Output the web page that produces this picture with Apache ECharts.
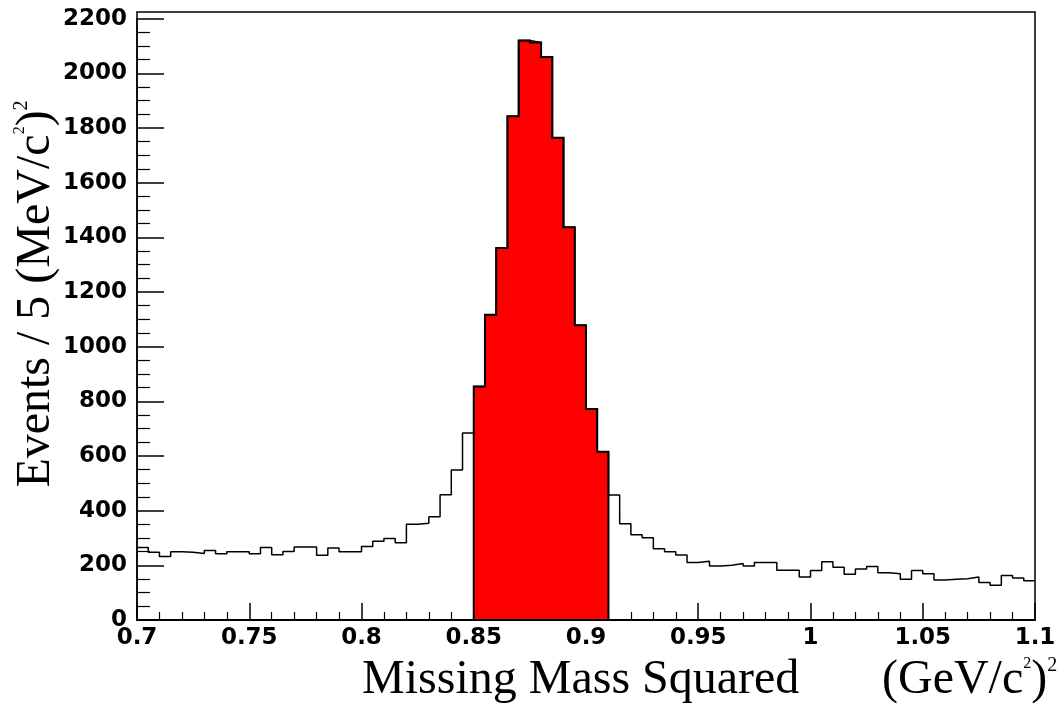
<!DOCTYPE html>
<html>
<head>
<meta charset="utf-8">
<script src="https://cdn.jsdelivr.net/npm/echarts@6/dist/echarts.min.js"></script>
<style>
html,body{margin:0;padding:0;background:#fff;}
#chart{width:1062px;height:713px;}
</style>
</head>
<body>
<div id="chart"></div>
<script>
// ---- data ----
const xRange = [0.7, 1.1];
const binWidth = 0.005;
const signalWindow = [0.85, 0.91];
const counts = [
  265, 248, 232, 250, 248, 243, 254, 242, 250, 250,
  242, 265, 239, 251, 267, 267, 237, 263, 250, 250,
  269, 288, 298, 283, 350, 354, 378, 458, 549, 684,
  854, 1117, 1361, 1843, 2120, 2113, 2060, 1764, 1437, 1078,
  772, 616, 457, 352, 312, 301, 261, 250, 238, 210,
  215, 198, 200, 207, 198, 210, 210, 182, 182, 157,
  181, 213, 193, 167, 187, 196, 173, 169, 149, 181,
  169, 146, 149, 151, 157, 137, 127, 163, 154, 144
];
const xTicks = [0.7, 0.75, 0.8, 0.85, 0.9, 0.95, 1, 1.05, 1.1];
const yTicks = [0, 200, 400, 600, 800, 1000, 1200, 1400, 1600, 1800, 2000, 2200];

// ---- build ----
const edges = counts.map((c, i) => +(xRange[0] + i * binWidth).toFixed(4));
const outline = counts.map((c, i) => [edges[i], c]);
outline.push([xRange[1], counts[counts.length - 1]]);

const sigBins = [];
counts.forEach((c, i) => {
  const lo = edges[i], hi = +(lo + binWidth).toFixed(4);
  if (lo >= signalWindow[0] - 1e-9 && hi <= signalWindow[1] + 1e-9) sigBins.push([lo, hi, c]);
});

const chart = echarts.init(document.getElementById('chart'), null, {renderer: 'canvas'});
const labelFont = {fontFamily: 'DejaVu Sans', fontWeight: 'bold', fontSize: 23, color: '#000'};
const serif = 'Liberation Serif';

chart.setOption({
  animation: false,
  backgroundColor: '#fff',
  grid: {left: 137, right: 27, top: 18.7, bottom: 93, show: false},
  xAxis: {
    type: 'value', min: xRange[0], max: xRange[1], interval: 0.05,
    axisLine: {show: true, lineStyle: {color: '#000', width: 2}},
    axisTick: {show: true, inside: true, length: 17, lineStyle: {color: '#000', width: 1.5}},
    minorTick: {show: true, splitNumber: 5, length: 8, lineStyle: {color: '#000', width: 1.2}},
    splitLine: {show: false},
    axisLabel: Object.assign({margin: 7, formatter: v => {
      const t = xTicks.find(k => Math.abs(k - v) < 1e-6);
      return t === undefined ? '' : String(t);
    }}, labelFont)
  },
  yAxis: {
    type: 'value', min: 0, max: 2200, interval: 200,
    axisLine: {show: true, lineStyle: {color: '#000', width: 1.5}},
    axisTick: {show: true, inside: true, length: 27, lineStyle: {color: '#000', width: 1.5}},
    minorTick: {show: true, splitNumber: 4, length: 13, lineStyle: {color: '#000', width: 1.2}},
    splitLine: {show: false},
    axisLabel: Object.assign({margin: 10, formatter: v => {
      const t = yTicks.find(k => Math.abs(k - v) < 1e-6);
      return t === undefined ? '' : String(t);
    }}, labelFont)
  },
  graphic: [
    {type: 'rect', z: 100, shape: {x: 137, y: 12, width: 898, height: 608},
     style: {fill: 'none', stroke: '#000', lineWidth: 1.5}, silent: true},
    {type: 'text', z: 100, x: 36, y: 294, rotation: Math.PI / 2,
     style: {text: 'Events / 5 (MeV/c{s|2}){t|2}', fontFamily: serif, fontSize: 48, fill: '#000',
       align: 'center', verticalAlign: 'middle',
       rich: {s: {fontFamily: serif, fontSize: 16, verticalAlign: 'top'},
              t: {fontFamily: serif, fontSize: 20, verticalAlign: 'top'}}}},
    {type: 'text', z: 100, x: 362, y: 680,
     style: {text: 'Missing Mass Squared', fontFamily: serif, fontSize: 48, fill: '#000',
       align: 'left', verticalAlign: 'middle'}},
    {type: 'text', z: 100, x: 882, y: 680,
     style: {text: '(GeV/c{s|2}){t|2}', fontFamily: serif, fontSize: 48, fill: '#000',
       align: 'left', verticalAlign: 'middle',
       rich: {s: {fontFamily: serif, fontSize: 16, verticalAlign: 'top'},
              t: {fontFamily: serif, fontSize: 20, verticalAlign: 'top'}}}}
  ],
  series: [
    {
      type: 'custom', z: 2, silent: true,
      data: [[0]],
      renderItem: (params, api) => {
        const pts = [api.coord([sigBins[0][0], 0])];
        sigBins.forEach(b => {
          pts.push(api.coord([b[0], b[2]]));
          pts.push(api.coord([b[1], b[2]]));
        });
        pts.push(api.coord([sigBins[sigBins.length - 1][1], 0]));
        return {type: 'polygon', shape: {points: pts},
                style: {fill: '#ff0000', stroke: '#000', lineWidth: 2}};
      }
    },
    {
      type: 'line', z: 3, silent: true, step: 'end',
      data: outline, symbol: 'none',
      lineStyle: {color: '#000', width: 1.5}
    }
  ]
});
</script>
</body>
</html>
